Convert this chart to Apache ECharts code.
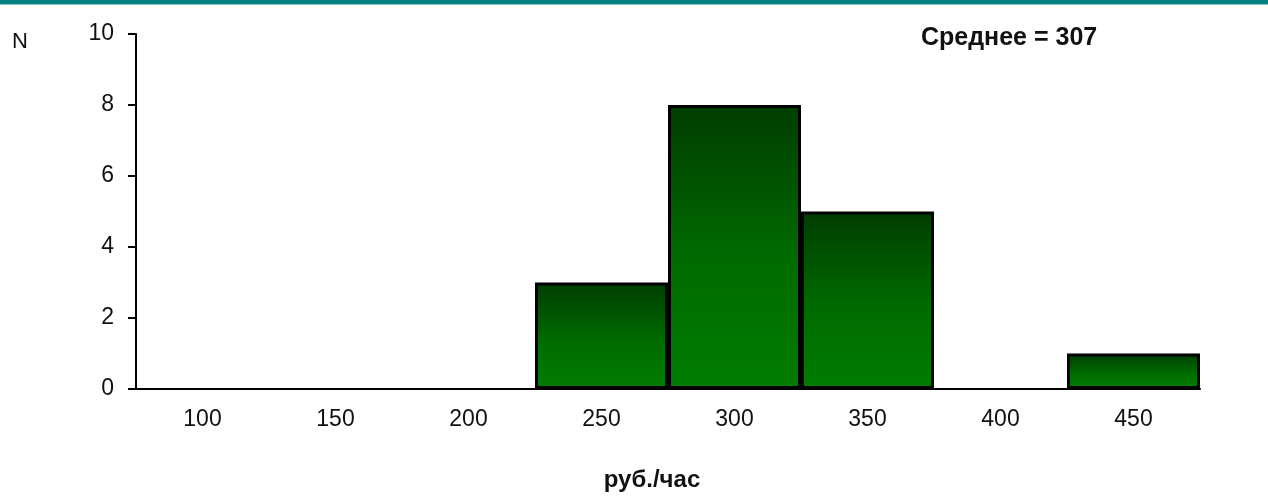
<!DOCTYPE html>
<html>
<head>
<meta charset="utf-8">
<script src="https://cdn.jsdelivr.net/npm/echarts@6/dist/echarts.min.js"></script>
<style>
  html, body { margin: 0; padding: 0; background: #fff; overflow: hidden; }
  #chart { width: 1268px; height: 497px; }
</style>
</head>
<body>
<div id="chart"></div>
<script>
// Histogram of hourly rates (bin centres) and counts per bin
const binLabels = ['100', '150', '200', '250', '300', '350', '400', '450'];
const counts = [0, 0, 0, 3, 8, 5, 0, 1];
const yTicks = [0, 2, 4, 6, 8, 10];
const meanValue = 307;

const FONT = '"Liberation Sans", Arial, sans-serif';

const chart = echarts.init(document.getElementById('chart'), null, { renderer: 'canvas' });

const barFill = new echarts.graphic.LinearGradient(0, 0, 0, 1, [
  { offset: 0, color: '#003c00' },
  { offset: 0.55, color: '#006c00' },
  { offset: 1, color: '#007c00' }
]);

chart.setOption({
  animation: false,
  backgroundColor: '#ffffff',
  grid: { left: 136, right: 68, top: 34, bottom: 108, containLabel: false, outerBoundsMode: 'none' },
  xAxis: {
    type: 'category',
    data: binLabels,
    boundaryGap: true,
    axisLine: { show: true, lineStyle: { color: '#000', width: 2 } },
    axisTick: { show: false },
    axisLabel: { color: '#111', fontFamily: FONT, fontSize: 23, margin: 19 },
    name: 'руб./час',
    nameLocation: 'middle',
    nameGap: 79,
    nameTextStyle: { color: '#111', fontFamily: FONT, fontSize: 24, fontWeight: 'bold', padding: [0, 32, 0, 0] },
    splitLine: { show: false }
  },
  yAxis: {
    type: 'value',
    min: yTicks[0],
    max: yTicks[yTicks.length - 1],
    interval: yTicks[1] - yTicks[0],
    axisLine: { show: true, lineStyle: { color: '#000', width: 2 } },
    axisTick: { show: true, inside: false, length: 8, lineStyle: { color: '#000', width: 2 } },
    axisLabel: { color: '#111', fontFamily: FONT, fontSize: 23, margin: 22 },
    splitLine: { show: false }
  },
  series: [{
    type: 'bar',
    data: counts.map(v => (v > 0 ? v : '-')),
    barWidth: '100%',
    barCategoryGap: '0%',
    itemStyle: { color: barFill, borderColor: '#000', borderWidth: 3 },
    z: 3
  }],
  graphic: [
    { type: 'rect', left: 0, top: 0, shape: { width: 1268, height: 4 }, style: { fill: '#008080' }, silent: true },
    { type: 'rect', left: 0, top: 4, shape: { width: 1268, height: 1 }, style: { fill: '#8cc6c6' }, silent: true },
    { type: 'text', left: 12, top: 31, style: { text: 'N', fill: '#111', font: '22px ' + FONT } },
    { type: 'text', left: 921, top: 26, style: { text: 'Среднее = ' + meanValue, fill: '#111', font: 'bold 25px ' + FONT } }
  ]
});
</script>
</body>
</html>
